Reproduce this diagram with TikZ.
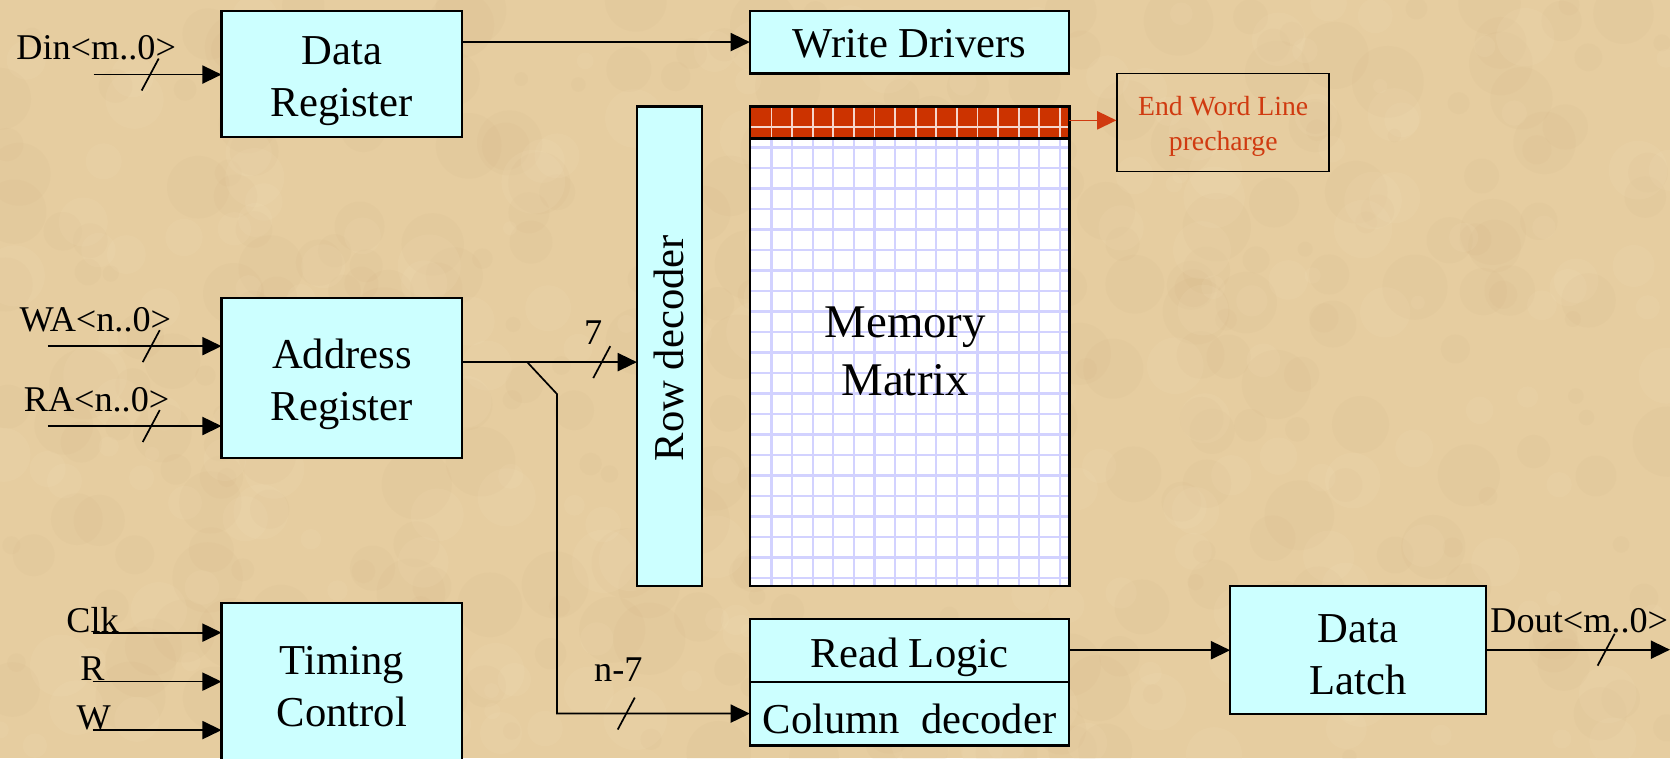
\documentclass[tikz,border=0pt]{standalone}
\usepackage{fontspec}
\setmainfont{Liberation Serif}
\usetikzlibrary{arrows.meta,calc}
\definecolor{bg}{HTML}{E6CDA0}
\definecolor{bgdark}{HTML}{C8A878}
\definecolor{bglight}{HTML}{F4E2BC}
\definecolor{boxfill}{HTML}{CCFFFF}
\definecolor{gridc}{HTML}{D2D2FF}
\definecolor{redband}{HTML}{CC3300}
\definecolor{ewlred}{HTML}{D03A10}
\tikzset{busslash/.pic={\draw[line width=0.8pt] (-8,15) -- (8,-15);}}
\begin{document}
\begin{tikzpicture}[x=0.5pt,y=-0.5pt,
 box/.style={draw=black, line width=1pt, fill=boxfill, inner sep=0pt, outer sep=0pt, align=center},
 wire/.style={line width=0.8pt},
 arr/.style={wire, -{Triangle[length=9pt,width=8.5pt]}},
 lbl/.style={font=\fontsize{17}{20}\selectfont, inner sep=0pt, anchor=base west},
 boxtxt/.style={font=\fontsize{20}{24.5}\selectfont, align=center, inner sep=0pt}]
\useasboundingbox (0,0) rectangle (1568,712);
\clip (0,0) rectangle (1568,712);
\fill[bg] (0,0) rectangle (1568,712);
\pgfmathsetseed{7}
\foreach \i in {1,...,350}{%
  \pgfmathsetmacro\xx{rnd*1568}\pgfmathsetmacro\yy{rnd*712}\pgfmathsetmacro\rr{6+rnd*28}%
  \fill[bgdark, opacity=0.07] (\xx,\yy) circle (\rr);}
\foreach \i in {1,...,250}{%
  \pgfmathsetmacro\xx{rnd*1568}\pgfmathsetmacro\yy{rnd*712}\pgfmathsetmacro\rr{6+rnd*24}%
  \fill[bglight, opacity=0.12] (\xx,\yy) circle (\rr);}

% boxes
\node[box, minimum width=113pt, minimum height=59.5pt] (dreg) at (321,69.5) {};
\node[boxtxt] (dregt) at ([yshift=-3.5pt]dreg.center) {Data\\Register};
\node[box, minimum width=150pt, minimum height=29.5pt] (wdrv) at (854,39.5) {};
\node[boxtxt] (wdrvt) at ([yshift=-1pt]wdrv.center) {Write Drivers};
\node[box, minimum width=113pt, minimum height=75pt] (areg) at (321,355) {};
\node[boxtxt] (aregt) at ([yshift=-2.75pt]areg.center) {Address\\Register};
\node[box, minimum width=113pt, minimum height=78pt] (tc) at (321,644) {};
\node[boxtxt] (tct) at ([yshift=-0.3pt]tc.center) {Timing\\Control};
\node[box, minimum width=150pt, minimum height=29.5pt] (rl) at (854,610.5) {};
\node[boxtxt] (rlt) at ([yshift=-3.3pt]rl.center) {Read Logic};
\node[box, minimum width=150pt, minimum height=30pt] (cd) at (854,670) {};
\node[boxtxt] (cdt) at ([yshift=-2.5pt]cd.center) {Column\ \ decoder};
\node[box, minimum width=120pt, minimum height=60pt] (dl) at (1275,610) {};
\node[boxtxt] (dlt) at ([yshift=-2.2pt]dl.center) {Data\\Latch};
\node[box, minimum width=30.5pt, minimum height=225pt] (rowdec) at (628.5,325) {};
\node[rotate=90, boxtxt] (rowtxt) at ([yshift=-1pt]rowdec.center) {Row decoder};

% memory matrix
\node[fill=white, minimum width=150pt, minimum height=225pt, inner sep=0pt, outer sep=0pt] (mem) at (854,325) {};
\begin{scope}
  \clip (704,100) rectangle (1004,550);
  \fill[redband] (704,100) rectangle (1004,130);
  \foreach \k in {0,...,14}
    \draw[gridc, line width=1pt] ({724.4+19.34*\k},130) -- ({724.4+19.34*\k},550);
  \foreach \k in {1,...,22}
    \draw[gridc, line width=1pt] (704,{119.2+19.25*\k}) -- (1004,{119.2+19.25*\k});
  \foreach \k in {0,...,14}
    \draw[white!80!redband, line width=0.8pt] ({724.4+19.34*\k},100) -- ({724.4+19.34*\k},130);
  \draw[white!80!redband, line width=0.8pt] (704,119.2) -- (1004,119.2);
\end{scope}
\draw[line width=1.2pt] (mem.south west) rectangle (mem.north east);
\draw[line width=1.2pt] (704,130) -- (1004,130);
\node[font=\fontsize{22}{27}\selectfont, align=center] (memtxt) at (850,330) {Memory\\Matrix};

% end word line
\node[draw=black, line width=0.8pt, minimum width=99.5pt, minimum height=46pt, inner sep=0pt] (ewl) at (1148.5,115) {};
\node[align=center, text=ewlred, font=\fontsize{13}{16.5}\selectfont, inner sep=0pt] (ewlt) at ([yshift=-2pt]ewl.center) {End Word Line\\precharge};
\draw[line width=0.8pt, draw=ewlred, fill=ewlred, -{Triangle[length=9pt,width=8.5pt]}] (1004,113) -- (1004,113 -| ewl.west);

% inputs
\node[lbl] (dinl) at (15,56) {Din<m..0>};
\coordinate (din) at (88,70);
\draw[arr] (din) -- (din -| dreg.west);
\pic at (141,70) {busslash};

\node[lbl] (wal) at (18,311) {WA<n..0>};
\coordinate (wa) at (45,325);
\draw[arr] (wa) -- (wa -| areg.west);
\pic at (142,325) {busslash};

\node[lbl] (ral) at (22,386) {RA<n..0>};
\coordinate (ra) at (45,400);
\draw[arr] (ra) -- (ra -| areg.west);
\pic at (142,400) {busslash};

\node[lbl] (clkl) at (62,594) {Clk};
\coordinate (clk) at (87,594);
\draw[arr] (clk) -- (clk -| tc.west);
\node[lbl] (rlab) at (75,639) {R};
\coordinate (rin) at (87,640);
\draw[arr] (rin) -- (rin -| tc.west);
\node[lbl] (wlab) at (71.5,685) {W};
\coordinate (win) at (87,685.5);
\draw[arr] (win) -- (win -| tc.west);

% data register -> write drivers
\draw[arr] (dreg.east |- wdrv.west) -- (wdrv.west);

% address register outputs
\coordinate (ao) at (434,340);
\coordinate (br) at (495,340);
\draw[arr] (ao) -- (ao -| rowdec.west);
\pic at (565,340) {busslash};
\node[lbl] (sevl) at (548,323) {7};
\draw[arr] (br) -- (523,370) -- (523,670) -- (cd.west);
\pic at (588,670) {busslash};
\node[lbl] (n7l) at (557.5,640) {n-7};

% read logic -> data latch -> out
\draw[arr] (rl.east) -- (rl.east -| dl.west);
\coordinate (dout) at (1568,610);
\draw[arr] (dl.east) -- (dout);
\pic at (1508,610) {busslash};
\node[lbl] (doutl) at (1399,594) {Dout<m..0>};
\end{tikzpicture}
\end{document}
